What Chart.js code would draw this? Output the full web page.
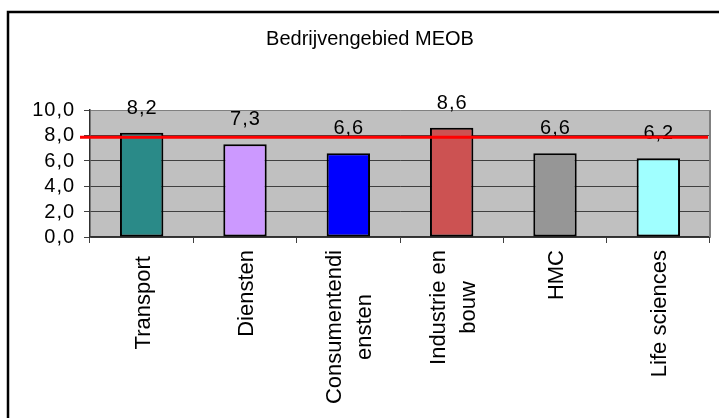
<!DOCTYPE html>
<html>
<head>
<meta charset="utf-8">
<script src="https://cdn.jsdelivr.net/npm/chart.js@4.4.1/dist/chart.umd.min.js"></script>
<style>
html, body { margin: 0; padding: 0; background: #fff; overflow: hidden; }
#wrap { width: 719px; height: 418px; }
</style>
</head>
<body>
<div id="wrap"><canvas id="chart" width="719" height="418"></canvas></div>
<script>
// Bedrijvengebied MEOB - scores per sector
const chartTitle = 'Bedrijvengebied MEOB';
const categories = ['Transport ', 'Diensten', ['Consumentendi', 'ensten'], ['Industrie en', 'bouw'], 'HMC', 'Life sciences'];
const values = [8.2, 7.3, 6.6, 8.6, 6.6, 6.2];
const barColors = ['#2a8a88', '#cc99ff', '#0000ff', '#cc5252', '#969696', '#a0ffff'];
const yTicks = [0, 2, 4, 6, 8, 10];
const yTickLabels = ['0,0', '2,0', '4,0', '6,0', '8,0', '10,0'];
const referenceValue = 7.85;

const FONT = "'Liberation Sans', Arial, sans-serif";

function fmt(v) {
    return v.toFixed(1).replace('.', ',');
}

const decorPlugin = {
    id: 'decor',
    beforeDraw(chart) {
        const ctx = chart.ctx;
        const a = chart.chartArea;
        ctx.save();
        ctx.fillStyle = '#fff';
        ctx.fillRect(0, 0, chart.width, chart.height);
        ctx.fillStyle = '#c0c0c0';
        ctx.fillRect(a.left, a.top, a.right - a.left, a.bottom - a.top);

        // outer frame (only left and top visible)
        ctx.strokeStyle = '#000';
        ctx.lineWidth = 2.5;
        ctx.beginPath();
        ctx.moveTo(8, chart.height + 5);
        ctx.lineTo(8, 12);
        ctx.lineTo(chart.width + 5, 12);
        ctx.stroke();

        ctx.fillStyle = '#000';
        ctx.font = '20px ' + FONT;
        ctx.textAlign = 'center';
        ctx.textBaseline = 'alphabetic';
        ctx.fillText(chartTitle, 370, 45);
        ctx.restore();
    },
    afterDraw(chart) {
        const ctx = chart.ctx;
        const a = chart.chartArea;
        const xs = chart.scales.x;
        const ys = chart.scales.y;
        ctx.save();

        // right border of plot
        ctx.strokeStyle = '#808080';
        ctx.lineWidth = 2;
        ctx.beginPath();
        ctx.moveTo(a.right, a.top);
        ctx.lineTo(a.right, a.bottom);
        ctx.stroke();

        ctx.fillStyle = '#000';

        // y tick labels
        ctx.font = '20px ' + FONT;
        ctx.letterSpacing = '1px';
        ctx.textAlign = 'right';
        ctx.textBaseline = 'alphabetic';
        yTicks.forEach((v, i) => {
            ctx.fillText(yTickLabels[i], 75.1, ys.getPixelForValue(v) + 6);
        });

        // value labels above bars
        ctx.textAlign = 'center';
        values.forEach((v, i) => {
            ctx.fillText(fmt(v), xs.getPixelForValue(i) + 0.5, ys.getPixelForValue(v) - 19);
        });

        // category labels, rotated, lines centred on each other
        ctx.letterSpacing = '0px';
        ctx.font = '22px ' + FONT;
        categories.forEach((cat, idx) => {
            const lines = Array.isArray(cat) ? cat : [cat];
            const maxW = Math.max(...lines.map(l => ctx.measureText(l).width));
            const cy = 250 + maxW / 2;
            const cx = xs.getPixelForValue(idx);
            lines.forEach((line, i) => {
                ctx.save();
                ctx.translate(cx + (i - (lines.length - 1) / 2) * 30 + 8, cy);
                ctx.rotate(-Math.PI / 2);
                ctx.textAlign = 'center';
                ctx.fillText(line, 0, 0);
                ctx.restore();
            });
        });

        // reference line
        const ry = ys.getPixelForValue(referenceValue);
        ctx.strokeStyle = '#ff0000';
        ctx.lineWidth = 3;
        ctx.beginPath();
        ctx.moveTo(a.left - 10, ry);
        ctx.lineTo(a.right - 2, ry);
        ctx.stroke();

        ctx.restore();
    }
};

const ctx = document.getElementById('chart').getContext('2d');
const chart = new Chart(ctx, {
    type: 'bar',
    data: {
        labels: categories,
        datasets: [{
            data: values,
            backgroundColor: barColors,
            borderColor: '#000',
            borderWidth: 2,
            borderSkipped: false,
            barPercentage: 0.42,
            categoryPercentage: 1
        }]
    },
    options: {
        responsive: false,
        animation: false,
        layout: {
            padding: { left: 84, right: 9, top: 110, bottom: 175 }
        },
        plugins: {
            legend: { display: false },
            title: { display: false },
            tooltip: { enabled: false }
        },
        scales: {
            x: {
                grid: {
                    offset: true,
                    drawOnChartArea: false,
                    drawTicks: true,
                    tickLength: 6,
                    tickColor: '#404040'
                },
                border: { display: true, color: '#303030', width: 1.5 },
                ticks: { display: false },
                afterFit: function(scale) { scale.height = 6; }
            },
            y: {
                min: 0,
                max: 10,
                ticks: { stepSize: 2, display: false },
                grid: {
                    color: c => (c.tick && c.tick.value === 10) ? '#808080' : '#404040',
                    tickColor: '#404040',
                    tickLength: 6,
                    lineWidth: 1
                },
                border: { display: true, color: '#303030', width: 1.5 },
                afterFit: function(scale) { scale.width = 6; }
            }
        }
    },
    plugins: [decorPlugin]
});
</script>
</body>
</html>
